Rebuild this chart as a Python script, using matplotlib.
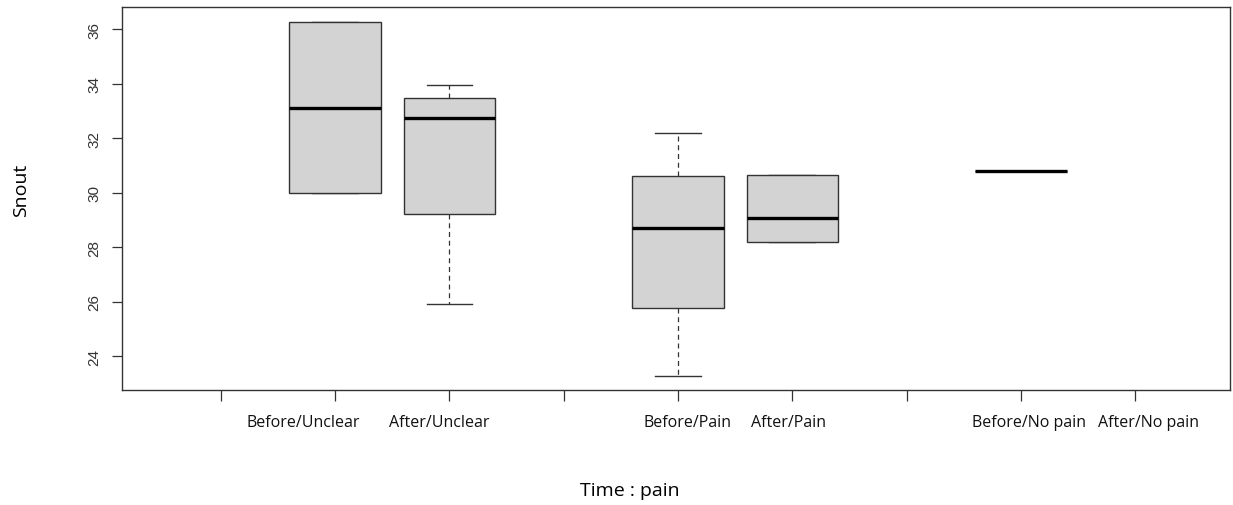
import numpy as np
import matplotlib
matplotlib.use("Agg")
import matplotlib.pyplot as plt
from matplotlib.transforms import blended_transform_factory

# R-style boxplot of Snout by Time : pain
labels = ["", "Before/Unclear", "After/Unclear", "",
          "Before/Pain", "After/Pain", "",
          "Before/No pain", "After/No pain"]
whislo = [None, 29.98, 25.91, None, 23.29, 28.18, None, 30.80, None]
q1 = [None, 29.98, 29.23, None, 25.77, 28.18, None, 30.80, None]
med = [None, 33.11, 32.76, None, 28.70, 29.08, None, 30.80, None]
q3 = [None, 36.26, 33.48, None, 30.63, 30.66, None, 30.80, None]
whishi = [None, 36.26, 33.96, None, 32.19, 30.66, None, 30.80, None]

# labels in the original are not quite centred under their ticks
label_offsets = [0, -0.28, -0.09, 0, 0.08, -0.03, 0, 0.07, 0.12]

positions = np.arange(1, len(labels) + 1)

stats = []
pos_used = []
for i, p in enumerate(positions):
    if med[i] is None:
        continue
    stats.append(dict(whislo=whislo[i], q1=q1[i], med=med[i], q3=q3[i],
                      whishi=whishi[i], fliers=[]))
    pos_used.append(p)

fig = plt.figure(figsize=(12.33, 5.06), dpi=100)
ax = fig.add_axes([0.0989, 0.2273, 0.9976 - 0.0989, 0.9836 - 0.2273])

ax.bxp(stats, positions=pos_used, widths=0.8, patch_artist=True,
       showfliers=False,
       boxprops=dict(facecolor="#d3d3d3", edgecolor="#333333", linewidth=1.0,
                     zorder=3),
       medianprops=dict(color="black", linewidth=2.4, solid_capstyle="butt",
                        zorder=4),
       whiskerprops=dict(color="#333333", linewidth=0.9, linestyle=(0, (4, 3))),
       capprops=dict(color="#333333", linewidth=1.0, zorder=2),
       capwidths=0.4)

ax.set_xlim(0.134, 9.83)
ax.set_ylim(22.76, 36.81)

ax.set_xticks(positions)
ax.set_xticklabels([])
ax.tick_params(axis="x", length=8, width=0.9, color="#333333")

trans = blended_transform_factory(ax.transData, fig.transFigure)
for p, lab, off in zip(positions, labels, label_offsets):
    ax.text(p + off, 1 - 423 / 506, lab, transform=trans, ha="center",
            va="center", fontsize=11.5, family="Open Sans", color="#111111",
            clip_on=False)

ax.set_yticks(np.arange(24, 37, 2))
ax.set_yticklabels([str(v) for v in range(24, 37, 2)], rotation=90,
                   va="center", fontsize=11, color="#333333",
                   family="Liberation Sans")
ax.tick_params(axis="y", length=7, width=0.9, pad=8, color="#333333")

for s in ax.spines.values():
    s.set_linewidth(1.0)
    s.set_color("#333333")

fig.text(0.511, 1 - 491 / 506, "Time : pain", ha="center", va="center",
         fontsize=14, family="Open Sans")
fig.text(0.017, 1 - 190 / 506, "Snout", ha="center", va="center",
         rotation=90, fontsize=14, family="Open Sans")

fig.savefig("out.png", dpi=100)
